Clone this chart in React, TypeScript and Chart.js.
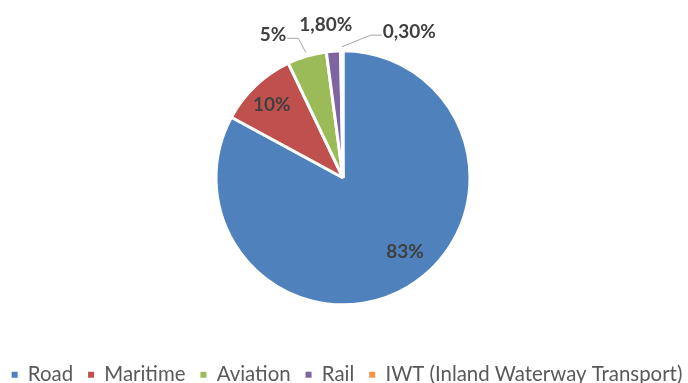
import React, { useEffect, useRef } from "react";
import { Chart, registerables } from "chart.js";

Chart.register(...registerables);

const categories = ["Road", "Maritime", "Aviation", "Rail", "IWT (Inland Waterway Transport)"];
const shares = [83, 10, 5, 1.8, 0.3];
const valueLabels = ["83%", "10%", "5%", "1,80%", "0,30%"];
const colors = ["#4F81BD", "#C0504D", "#9BBB59", "#8064A2", "#F79646"];

// label placement relative to each arc: angle offset (deg) from arc mid-angle, radius factor, leader side
const labelPlacement = [
  { dAngle: -9.25, rf: 0.76, leader: "" },
  { dAngle: -1, rf: 0.8, leader: "" },
  { dAngle: -9.6, rf: 1.25, leader: "right" },
  { dAngle: -2.1, rf: 1.21, leader: "" },
  { dAngle: 25, rf: 1.26, leader: "left" },
];

const W = 720;
const H = 395;
const SHIFT = -16;
const LEGEND_NUDGE = 4;

const labelPlugin = {
  id: "sliceLabels",
  afterLayout(chart: any) {
    if (chart.legend) {
      chart.legend.left += LEGEND_NUDGE;
      chart.legend.right += LEGEND_NUDGE;
    }
  },
  afterDatasetsDraw(chart: any) {
    const ctx = chart.ctx as CanvasRenderingContext2D;
    const meta = chart.getDatasetMeta(0);
    ctx.save();
    ctx.font = "bold 19px Lato";
    ctx.textAlign = "center";
    ctx.textBaseline = "middle";
    meta.data.forEach((arc: any, i: number) => {
      const { x, y, startAngle, endAngle, outerRadius } = arc.getProps(
        ["x", "y", "startAngle", "endAngle", "outerRadius"],
        true
      );
      const mid = (startAngle + endAngle) / 2;
      const p = labelPlacement[i];
      const a = mid + (p.dAngle * Math.PI) / 180;
      const lx = x + Math.cos(a) * outerRadius * p.rf;
      const ly = y + Math.sin(a) * outerRadius * p.rf;
      if (p.leader) {
        const w = ctx.measureText(valueLabels[i]).width;
        const ex = x + Math.cos(mid) * (outerRadius + 4);
        const ey = y + Math.sin(mid) * (outerRadius + 4);
        const sx = p.leader === "right" ? lx + w / 2 + 1 : lx - w / 2 - 1;
        const kx = p.leader === "right" ? sx + 11 : sx - 11;
        const sy = ly + 3;
        ctx.strokeStyle = "#A6A6A6";
        ctx.lineWidth = 1;
        ctx.beginPath();
        ctx.moveTo(sx, sy);
        ctx.lineTo(kx, sy);
        ctx.lineTo(ex, ey);
        ctx.stroke();
      }
      ctx.fillStyle = "#404040";
      ctx.fillText(valueLabels[i], lx, ly);
    });
    ctx.restore();
  },
};

export default function App() {
  const ref = useRef<HTMLCanvasElement>(null);
  useEffect(() => {
    if (!ref.current) return;
    const baseGen = (Chart as any).overrides.pie.plugins.legend.labels.generateLabels;
    const chart = new Chart(ref.current, {
      type: "pie",
      data: {
        labels: categories,
        datasets: [
          {
            data: shares,
            backgroundColor: colors,
            borderColor: "#FFFFFF",
            borderWidth: 3,
            radius: 127,
          } as any,
        ],
      },
      options: {
        animation: false,
        responsive: false,
        radius: 127,
        layout: { padding: { top: 6, left: 0, right: 2, bottom: 0 } },
        plugins: {
          legend: {
            position: "bottom",
            labels: {
              font: { family: "Lato", size: 20.4 },
              color: "#595959",
              boxWidth: 6,
              boxHeight: 6,
              padding: 15,
              generateLabels: (c: any) =>
                baseGen(c).map((it: any) => ({ ...it, lineWidth: 0, strokeStyle: "rgba(0,0,0,0)" })),
            },
          },
          tooltip: { enabled: false },
        },
      } as any,
      plugins: [labelPlugin],
    });
    if ((document as any).fonts) {
      Promise.all([
        (document as any).fonts.load("bold 19px Lato"),
        (document as any).fonts.load("20px Lato"),
      ]).then(() => chart.update());
    }
    return () => chart.destroy();
  }, []);
  return (
    <div
      style={{
        position: "fixed",
        left: 0,
        top: 0,
        width: 688,
        height: 383,
        overflow: "hidden",
        background: "#FFFFFF",
      }}
    >
      <canvas
        ref={ref}
        width={W}
        height={H}
        style={{ display: "block", width: W, height: H, marginLeft: SHIFT }}
      />
    </div>
  );
}
